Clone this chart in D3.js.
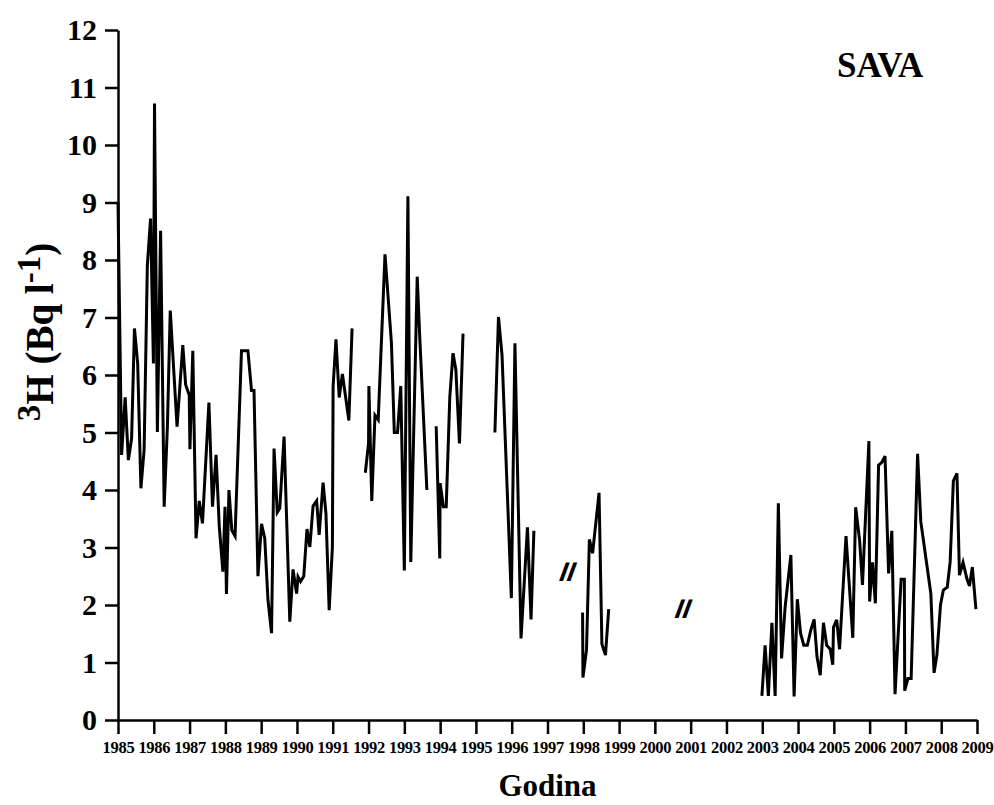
<!DOCTYPE html>
<html>
<head>
<meta charset="utf-8">
<script src="https://cdn.jsdelivr.net/npm/d3@7/dist/d3.min.js"></script>
<style>
  html, body { margin: 0; padding: 0; background: #fff; }
  svg { display: block; }
  text { font-family: 'Liberation Serif', 'Times New Roman', serif; font-weight: bold; fill: #000; }
</style>
</head>
<body>
<svg id="chart" width="994" height="805"></svg>
<script>
"use strict";

// decimal year of each sample; null marks a gap in the record
const years = [
  1985.00, 1985.10, 1985.20, 1985.29, 1985.38, 1985.46, 1985.55, 1985.64, 1985.73, 1985.82,
  1985.91, 1985.99, 1986.02, 1986.10, 1986.19, 1986.29, 1986.38, 1986.46, 1986.65, 1986.81,
  1986.89, 1986.99, 1987.01, 1987.09, 1987.18, 1987.27, 1987.36, 1987.54, 1987.64, 1987.74,
  1987.83, 1987.93, 1987.99, 1988.03, 1988.10, 1988.18, 1988.27, 1988.45, 1988.63, 1988.73,
  1988.80, 1988.91, 1989.01, 1989.10, 1989.19, 1989.29, 1989.36, 1989.45, 1989.52, 1989.64,
  1989.80, 1989.89, 1989.99, 1990.03, 1990.10, 1990.19, 1990.28, 1990.36, 1990.45, 1990.55,
  1990.62, 1990.73, 1990.81, 1990.90, 1990.99, 1991.01, 1991.09, 1991.18, 1991.27, 1991.45,
  1991.54,
  null,
  1991.91, 1992.00, 1992.01, 1992.09, 1992.18, 1992.27, 1992.46, 1992.64, 1992.72, 1992.81,
  1992.90, 1993.00, 1993.10, 1993.18, 1993.36, 1993.43, 1993.63,
  null,
  1993.89, 1993.99, 1994.00, 1994.09, 1994.17, 1994.27, 1994.36, 1994.44, 1994.54, 1994.64,
  null,
  1995.53, 1995.63, 1995.73, 1995.99, 1996.09, 1996.26, 1996.44, 1996.54, 1996.62,
  null,
  1997.98, 1997.99, 1998.09, 1998.17, 1998.26, 1998.44, 1998.52, 1998.62, 1998.71,
  null,
  2002.99, 2003.08, 2003.17, 2003.27, 2003.36, 2003.45, 2003.54, 2003.64, 2003.80, 2003.89,
  2003.98, 2004.07, 2004.16, 2004.26, 2004.36, 2004.45, 2004.53, 2004.62, 2004.71, 2004.80,
  2004.90, 2004.97, 2004.99, 2005.08, 2005.16, 2005.34, 2005.53, 2005.61, 2005.72, 2005.80,
  2005.98, 2006.00, 2006.08, 2006.16, 2006.25, 2006.34, 2006.43, 2006.53, 2006.62, 2006.71,
  2006.88, 2006.97, 2006.98, 2007.07, 2007.16, 2007.34, 2007.43, 2007.71, 2007.80, 2007.88,
  2007.98, 2008.06, 2008.17, 2008.25, 2008.34, 2008.44, 2008.51, 2008.61, 2008.72, 2008.79,
  2008.87, 2008.97
];

// tritium activity, Bq/l
const tritium = [
  9.0, 4.61, 5.61, 4.52, 4.90, 6.81, 6.20, 4.03, 4.70, 7.91,
  8.72, 6.20, 10.72, 5.01, 8.51, 3.71, 5.10, 7.12, 5.10, 6.52,
  5.83, 5.65, 4.71, 6.42, 3.16, 3.81, 3.42, 5.52, 3.71, 4.61,
  3.36, 2.58, 3.71, 2.19, 4.00, 3.30, 3.20, 6.42, 6.42, 5.73,
  5.73, 2.50, 3.41, 3.16, 2.09, 1.51, 4.72, 3.61, 3.68, 4.93,
  1.71, 2.62, 2.20, 2.49, 2.41, 2.50, 3.32, 3.01, 3.72, 3.81,
  3.22, 4.13, 3.59, 1.91, 3.01, 5.80, 6.62, 5.61, 6.02, 5.21,
  6.81,
  null,
  4.30, 4.81, 5.81, 3.81, 5.30, 5.22, 8.10, 6.55, 5.00, 5.00,
  5.81, 2.60, 9.11, 2.75, 7.71, 6.67, 4.00,
  null,
  5.11, 2.81, 4.12, 3.71, 3.71, 5.61, 6.38, 6.09, 4.81, 6.72,
  null,
  5.00, 7.01, 6.34, 2.12, 6.55, 1.42, 3.35, 1.75, 3.29,
  null,
  1.87, 0.74, 1.22, 3.14, 2.90, 3.95, 1.32, 1.13, 1.93,
  null,
  0.42, 1.30, 0.42, 1.69, 0.42, 3.77, 1.07, 1.97, 2.87, 0.41,
  2.10, 1.51, 1.30, 1.30, 1.57, 1.75, 1.10, 0.78, 1.69, 1.30,
  1.23, 0.96, 1.61, 1.74, 1.23, 3.20, 1.43, 3.70, 3.13, 2.35,
  4.85, 2.06, 2.74, 2.03, 4.43, 4.48, 4.59, 2.55, 3.29, 0.45,
  2.45, 2.45, 0.51, 0.72, 0.72, 4.63, 3.45, 2.20, 0.82, 1.13,
  2.00, 2.26, 2.31, 2.75, 4.16, 4.29, 2.52, 2.74, 2.45, 2.33,
  2.66, 1.93
];

// break markers drawn across the missing years
const breakYears  = [1997.48, 2000.71];
const breakValues = [2.60, 1.95];

const xTicks = d3.range(1985, 2010);
const yTicks = d3.range(0, 13);

const W = 994, H = 805;
const margin = { top: 30, right: 17, bottom: 85, left: 118 };

const svg = d3.select('#chart');

const x = d3.scaleLinear().domain([1985, 2009]).range([margin.left, W - margin.right]);
const y = d3.scaleLinear().domain([0, 12]).range([H - margin.bottom, margin.top]);

// x axis
const xAxis = svg.append('g')
  .attr('transform', 'translate(0,' + y(0) + ')')
  .call(d3.axisBottom(x).tickValues(xTicks).tickFormat(d3.format('d')).tickSize(14).tickSizeOuter(0).tickPadding(7));
xAxis.select('.domain').attr('stroke-width', 2.5);
xAxis.selectAll('.tick line').attr('stroke-width', 2.5);
xAxis.selectAll('.tick text')
  .style('font-size', '16.5px')
  .attr('letter-spacing', '-0.3px');

// y axis
const yAxis = svg.append('g')
  .attr('transform', 'translate(' + x(1985) + ',0)')
  .call(d3.axisLeft(y).tickValues(yTicks).tickSize(13).tickSizeOuter(0).tickPadding(8));
yAxis.select('.domain').attr('stroke-width', 2.5);
yAxis.selectAll('.tick line').attr('stroke-width', 2.5);
yAxis.selectAll('.tick text')
  .style('font-size', '30px');

// series
const pts = years.map((t, i) => [t, tritium[i]]);
const line = d3.line()
  .defined(d => d[0] !== null && d[1] !== null)
  .x(d => x(d[0]))
  .y(d => y(d[1]));

svg.append('path')
  .datum(pts)
  .attr('fill', 'none')
  .attr('stroke', '#000')
  .attr('stroke-width', 3)
  .attr('stroke-linejoin', 'miter')
  .attr('stroke-miterlimit', 4)
  .attr('d', line);

// gap markers
svg.append('g').selectAll('text.brk')
  .data(breakYears.map((t, i) => [t, breakValues[i]]))
  .enter().append('text')
  .attr('class', 'brk')
  .attr('transform', d => 'translate(' + x(d[0]) + ',' + (y(d[1]) + 10) + ') skewX(-20)')
  .attr('text-anchor', 'middle')
  .style('font-family', "'Liberation Sans', Arial, sans-serif")
  .style('font-size', '27px')
  .text('II');

// station name
svg.append('text')
  .attr('x', 837).attr('y', 77)
  .style('font-size', '35px')
  .text('SAVA');

// axis titles
svg.append('text')
  .attr('x', (x(1985) + x(2009)) / 2).attr('y', 796)
  .attr('text-anchor', 'middle')
  .style('font-size', '31px')
  .text('Godina');

const yl = svg.append('text')
  .attr('transform', 'translate(53,332) rotate(-90)')
  .attr('text-anchor', 'middle')
  .style('font-size', '39px');
yl.append('tspan').style('font-size', '33px').attr('dy', '-13').text('3');
yl.append('tspan').attr('dy', '13').text('H (Bq l');
yl.append('tspan').style('font-size', '33px').attr('dy', '-13').text('-1');
yl.append('tspan').attr('dy', '13').text(')');
</script>
</body>
</html>
